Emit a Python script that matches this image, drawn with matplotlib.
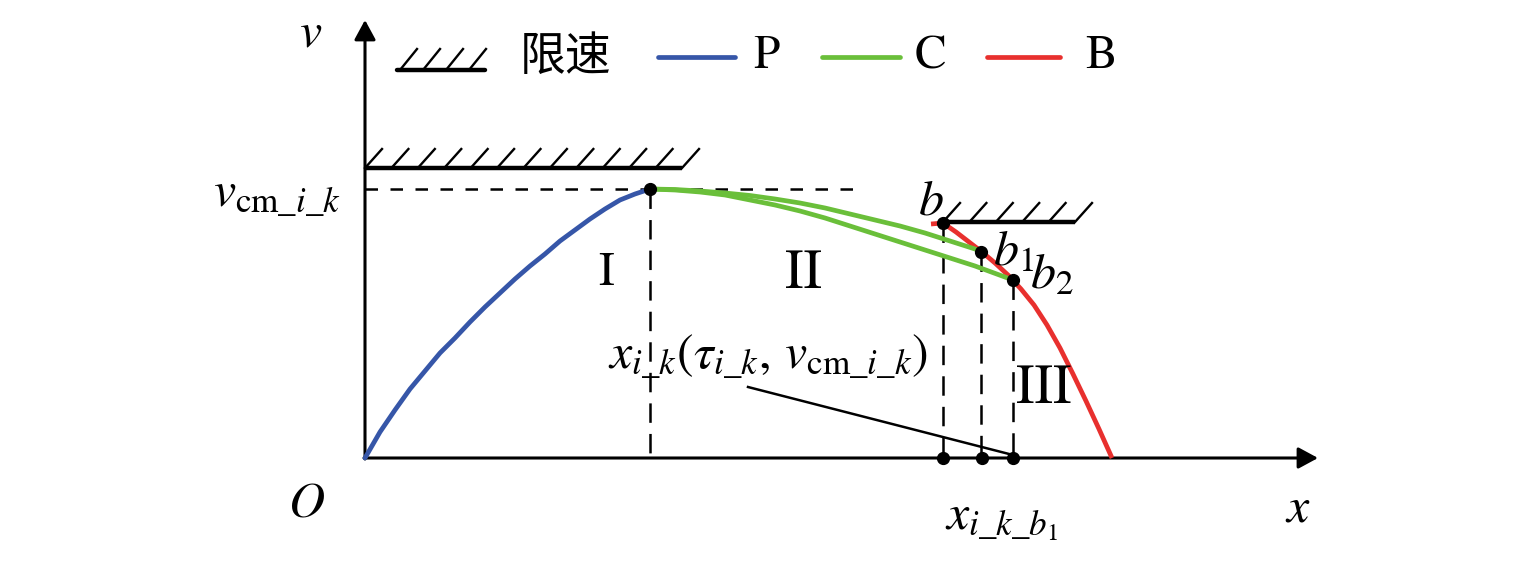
import matplotlib
matplotlib.use("Agg")
import matplotlib.pyplot as plt

plt.rcParams['mathtext.fontset'] = 'stix'
plt.rcParams['font.family'] = ['STIXGeneral', 'Noto Sans CJK SC', 'DejaVu Sans']
plt.rcParams['lines.scale_dashes'] = False

# ---- data (schematic units, origin at O) ----
P_x = [0, 15, 30, 45, 60, 75, 90, 105, 120, 135, 150, 165, 180, 195, 210, 225,
       240, 255, 270, 285]
P_v = [0, 26, 48, 69, 87, 105, 120, 136, 151, 165, 179, 192, 204, 217, 228, 239,
       249, 258, 264, 269]

C1_x = [285, 310, 335, 360, 385, 410, 435, 460, 485, 510, 535, 560, 585, 610, 616]
C1_v = [269, 268.5, 267, 265, 262.5, 259, 255, 250, 244, 238, 232, 225, 217, 209, 206]

C2_x = [285, 310, 335, 360, 385, 410, 435, 460, 485, 510, 535, 560, 585, 610, 648]
C2_v = [269, 268, 266, 263, 258, 253, 247, 240, 232, 224, 216, 208, 200, 192, 178]

B_x = [566, 578, 591, 604, 617, 630, 643, 656, 669, 682, 695, 708, 721, 734, 747]
B_v = [234, 235, 226, 216, 206, 195, 183, 169, 153, 133, 110, 84, 57, 29, 0]

v_cm = 269            # speed of peak point
x_peak = 285
limit1_v, limit1_x = (290, (0, 317))
limit2_v, limit2_x = (236, (578, 710))
b_pts_x = [578, 616, 648]
b_pts_v = [235, 206, 178]
axis_pts_x = [578, 617, 648]

fig = plt.figure(figsize=(15.35, 5.61), dpi=100)
ax = fig.add_axes([0, 0, 1, 1])
ax.set_xlim(-365, 1170)
ax.set_ylim(-103, 458)
ax.axis('off')

K = 'black'
BLUE, GREEN, RED = '#3656A8', '#6ABF3A', '#E8302E'

# axes with arrows
ax.annotate('', xy=(953, 0), xytext=(-1, 0),
            arrowprops=dict(arrowstyle='-|>,head_length=1.2,head_width=0.65',
                            color=K, lw=2.2, shrinkA=0, shrinkB=0), zorder=2)
ax.annotate('', xy=(0, 438), xytext=(0, -1),
            arrowprops=dict(arrowstyle='-|>,head_length=1.2,head_width=0.65',
                            color=K, lw=2.2, shrinkA=0, shrinkB=0), zorder=2)

# hatch speed limits
def limit(x0, x1, v, n, lw=3.2):
    ax.plot([x0, x1], [v, v], color=K, lw=lw, solid_capstyle='butt', zorder=3)
    step = (x1 - x0) / (n - 1)
    for k in range(n):
        xb = x0 + k * step
        ax.plot([xb, xb + 17], [v, v + 19], color=K, lw=1.7, zorder=3)

limit(limit1_x[0], limit1_x[1], limit1_v, 13)
limit(limit2_x[0], limit2_x[1], limit2_v, 6)

# dashed guide lines
ax.plot([0, 495], [v_cm, v_cm], color=K, lw=1.8, dashes=(9, 9), zorder=2)
for xv, vv in [(x_peak, v_cm)] + list(zip(b_pts_x, b_pts_v)):
    ax.plot([xv, xv], [vv, 0], color=K, lw=1.8, dashes=(14, 8), zorder=2)

# curves
ax.plot(P_x, P_v, color=BLUE, lw=3.4, solid_capstyle='round', zorder=4)
ax.plot(C1_x, C1_v, color=GREEN, lw=3.4, solid_capstyle='round', zorder=4)
ax.plot(C2_x, C2_v, color=GREEN, lw=3.4, solid_capstyle='round', zorder=4)
ax.plot(B_x, B_v, color=RED, lw=3.4, solid_capstyle='butt', zorder=3)

# dots
ax.plot([x_peak] + b_pts_x, [v_cm] + b_pts_v, 'o', color=K, ms=8.5, zorder=6)
ax.plot(axis_pts_x, [0, 0, 0], 'o', color=K, ms=8.5, zorder=6)

# annotation leader
ax.plot([383, 648], [71, 3], color=K, lw=1.8, zorder=5)

# texts
fs = 36
ax.text(-54, 423, r'$v$', fontsize=fs, ha='center', va='center')
ax.text(-59, -47, r'$O$', fontsize=fs, ha='center', va='center')
ax.text(933, -52, r'$x$', fontsize=fs, ha='center', va='center')
ax.text(-152, 262, r'$v_{\mathrm{cm}\_i\_k}$', fontsize=fs, ha='left', va='center')
ax.text(243, 101, r'$x_{i\_k}(\tau_{i\_k},\,v_{\mathrm{cm}\_i\_k})$', fontsize=fs,
        ha='left', va='center')
ax.text(580, -62, r'$x_{i\_k\_b_1}$', fontsize=fs, ha='left', va='center')
ax.text(566, 255, r'$b$', fontsize=fs, ha='center', va='center')
ax.text(628, 204, r'$b_1$', fontsize=fs, ha='left', va='center')
ax.text(665, 181, r'$b_2$', fontsize=fs, ha='left', va='center')
ax.text(241, 184, 'I', fontsize=34, ha='center', va='center')
ax.text(438, 183, 'II', fontsize=40, ha='center', va='center')
ax.text(679, 68, 'III', fontsize=40, ha='center', va='center')

# legend
lv = 401
ax.plot([32, 120], [388, 388], color=K, lw=3.2, solid_capstyle='round')
for xb in [35, 58, 81, 104]:
    ax.plot([xb, xb + 17], [388, 409], color=K, lw=1.7)
ax.text(201, lv, '限速', fontsize=33, ha='center', va='center',
        family=['Noto Sans CJK SC'])
ax.plot([293, 370], [lv, lv], color=BLUE, lw=3.4, solid_capstyle='round')
ax.text(401, lv, 'P', fontsize=34, ha='center', va='center')
ax.plot([457, 535], [lv, lv], color=GREEN, lw=3.4, solid_capstyle='round')
ax.text(565, lv, 'C', fontsize=34, ha='center', va='center')
ax.plot([622, 695], [lv, lv], color=RED, lw=3.4, solid_capstyle='round')
ax.text(736, lv, 'B', fontsize=34, ha='center', va='center')

fig.savefig('out.png', dpi=100)
